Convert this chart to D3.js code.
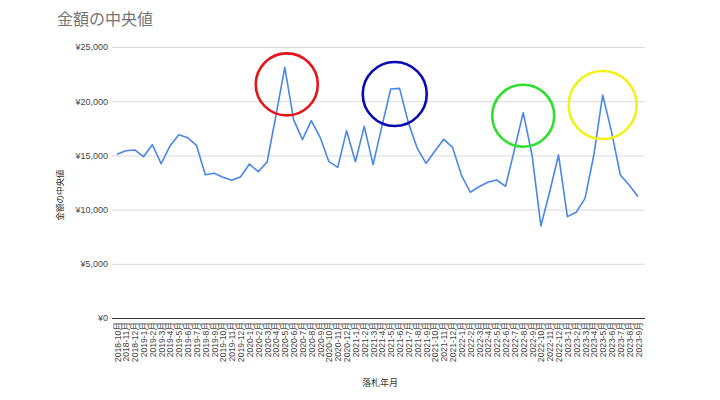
<!DOCTYPE html>
<html>
<head>
<meta charset="utf-8">
<script src="https://cdn.jsdelivr.net/npm/d3@7/dist/d3.min.js"></script>
<style>
  html, body { margin: 0; padding: 0; background: #fff; }
  svg { display: block; font-family: "Liberation Sans", Arial, "Noto Sans CJK JP", sans-serif; }
</style>
</head>
<body>
<svg id="chart" width="720" height="400"></svg>
<script>
const months = [
  "2018-10月","2018-11月","2018-12月",
  "2019-1月","2019-2月","2019-3月","2019-4月","2019-5月","2019-6月","2019-7月","2019-8月","2019-9月","2019-10月","2019-11月","2019-12月",
  "2020-1月","2020-2月","2020-3月","2020-4月","2020-5月","2020-6月","2020-7月","2020-8月","2020-9月","2020-10月","2020-11月","2020-12月",
  "2021-1月","2021-2月","2021-3月","2021-4月","2021-5月","2021-6月","2021-7月","2021-8月","2021-9月","2021-10月","2021-11月","2021-12月",
  "2022-1月","2022-2月","2022-3月","2022-4月","2022-5月","2022-6月","2022-7月","2022-8月","2022-9月","2022-10月","2022-11月","2022-12月",
  "2023-1月","2023-2月","2023-3月","2023-4月","2023-5月","2023-6月","2023-7月","2023-8月","2023-9月"
];
const medianValues = [
  15100, 15430, 15500,
  14880, 15990, 14230, 15870, 16910, 16630, 15930, 13220, 13350, 12980, 12700, 13030,
  14200, 13500, 14390, 18700, 23120, 18300, 16450, 18200, 16670, 14420, 13900, 17280,
  14420, 17680, 14150, 17700, 21120, 21180, 18000, 15650, 14270, 15410, 16480, 15740,
  13190, 11600, 12110, 12530, 12730, 12150, 15500, 18940, 15040, 8490, 11650, 15040,
  9350, 9750, 11040, 15040, 20570, 17190, 13190, 12270, 11190
];
const yTicks = [0, 5000, 10000, 15000, 20000, 25000];
const highlightMonths = ["2020-5月", "2021-5月", "2022-8月", "2023-5月"];
const highlightColors = ["#e8141c", "#0a0ab4", "#2ee02e", "#f2f21a"];

const title = "金額の中央値";
const xTitle = "落札年月";
const yTitle = "金額の中央値";

(function () {
const svg = d3.select("#chart");
const mLeft = 112, mRight = 645, mTop = 47, mBottom = 318;
const hlOffsets = [[2, 17], [4, 5], [0, 3], [0, 10]];
const hlRadius = [31, 32, 31, 34];

const x = d3.scalePoint().domain(months).range([117, 638]);
const y = d3.scaleLinear().domain([0, 25000]).range([mBottom, mTop]);

svg.append("text").attr("x", 57).attr("y", 25)
  .attr("font-size", 16).attr("fill", "#757575")
  .attr("font-family", "'Noto Sans CJK JP', sans-serif")
  .text(title);

const yAxis = d3.axisLeft(y).tickValues(yTicks)
  .tickSize(-(mRight - mLeft)).tickPadding(4)
  .tickFormat(d => "¥" + d3.format(",")(d));
const gy = svg.append("g").attr("transform", `translate(${mLeft},0)`).call(yAxis);
gy.select(".domain").remove();
gy.selectAll(".tick line").attr("stroke", "#d9d9d9").attr("stroke-width", 1);
gy.selectAll(".tick text").attr("font-size", 9).attr("fill", "#444");
gy.selectAll(".tick").filter(d => d === 0).select("line").attr("stroke", "#333");

const xAxis = d3.axisBottom(x).tickSize(0).tickPadding(0);
const gx = svg.append("g").attr("transform", `translate(0,${mBottom})`).call(xAxis);
gx.select(".domain").remove();
gx.selectAll(".tick text")
  .attr("font-size", 8.6).attr("fill", "#444")
  .attr("font-family", "'Liberation Sans', 'Noto Sans CJK JP', sans-serif")
  .attr("text-anchor", "end")
  .attr("dy", "0.35em")
  .attr("transform", "translate(0,4) rotate(-90)")
  .attr("x", 0).attr("y", 0);

svg.append("text").attr("x", 380).attr("y", 386).attr("text-anchor", "middle")
  .attr("font-size", 9).attr("fill", "#333")
  .attr("font-family", "'Noto Sans CJK JP', sans-serif").text(xTitle);
svg.append("text").attr("transform", "translate(63,195) rotate(-90)")
  .attr("text-anchor", "middle").attr("font-size", 8.5).attr("fill", "#333")
  .attr("font-family", "'Noto Sans CJK JP', sans-serif").text(yTitle);

const line = d3.line().x((d, i) => x(months[i])).y(d => y(d));
svg.append("path").datum(medianValues)
  .attr("d", line).attr("fill", "none")
  .attr("stroke", "#4a86e8").attr("stroke-width", 1.6)
  .attr("stroke-linejoin", "round");

highlightMonths.forEach((m, i) => {
  const v = medianValues[months.indexOf(m)];
  svg.append("circle")
    .attr("cx", x(m) + hlOffsets[i][0])
    .attr("cy", y(v) + hlOffsets[i][1])
    .attr("r", hlRadius[i])
    .attr("fill", "none")
    .attr("stroke", highlightColors[i])
    .attr("stroke-width", 2.6);
});
})();
</script>
</body>
</html>
